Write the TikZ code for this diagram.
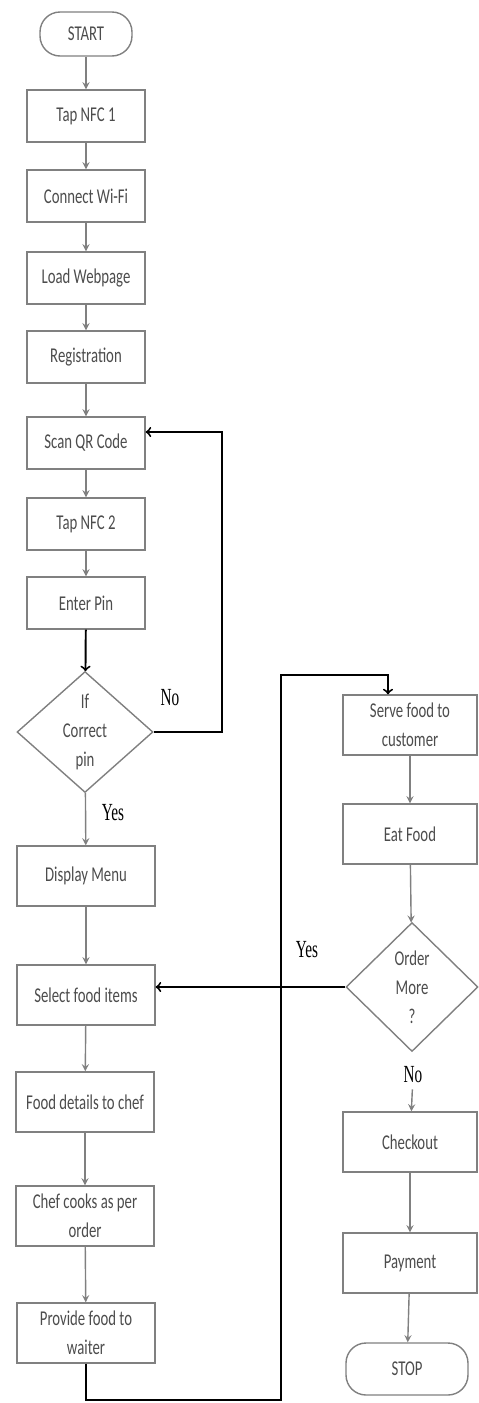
\documentclass[tikz,border=0pt]{standalone}
\usepackage{fontspec}
\setmainfont{Carlito}[FakeStretch=0.7]
\newfontfamily\labelfont{Liberation Serif}[FakeStretch=0.62]
\usetikzlibrary{shapes.geometric}

\begin{document}
\begin{tikzpicture}[x=0.02cm,y=-0.02cm,
    every node/.style={text=black!70,font=\fontsize{12}{16.5}\selectfont,align=center},
    box/.style={draw=gray,line width=0.8pt,inner sep=1pt},
    smallbox/.style={box,minimum width=2.36cm,minimum height=1.04cm},
    bigbox/.style={box,minimum width=2.76cm,minimum height=1.2cm},
    rightbox/.style={box,minimum width=2.68cm,minimum height=1.2cm},
    terminal/.style={box,rounded corners=0.4cm},
    decision/.style={box,diamond,inner sep=0pt},
    flow/.style={draw=gray,line width=0.8pt,-stealth},
    jump/.style={draw=black,line width=1.1pt,->},
    answer/.style={text=black,font=\labelfont\fontsize{14}{14}\selectfont}]
      \useasboundingbox (0,0) rectangle (478,1403);

      \node[terminal,minimum width=1.84cm,minimum height=0.88cm] (start) at (86,34) {START};
      \node[smallbox] (nfcone) at (86,116) {Tap NFC 1};
      \node[smallbox] (wifi) at (86,196) {Connect Wi-Fi};
      \node[smallbox] (webpage) at (86,278) {Load Webpage};
      \node[smallbox] (register) at (86,357) {Registration};
      \node[smallbox] (scanqr) at (86,443) {Scan QR Code};
      \node[smallbox] (nfctwo) at (86,524) {Tap NFC 2};
      \node[smallbox] (pin) at (86,603) {Enter Pin};
      \node[decision,minimum width=2.72cm,minimum height=2.42cm] (checkpin) at (85,732) {If\\Correct\\pin};
      \node[bigbox] (menu) at (86,876) {Display Menu};
      \node[bigbox] (select) at (86,995) {Select food items};
      \node[bigbox] (chef) at (85,1102) {Food details to chef};
      \node[bigbox] (cook) at (85,1216) {Chef cooks as per\\order};
      \node[bigbox] (waiter) at (86,1333) {Provide food to\\waiter};

      \node[rightbox] (serve) at (410,725) {Serve food to\\customer};
      \node[rightbox] (eat) at (410,834) {Eat Food};
      \node[decision,minimum width=2.64cm,minimum height=2.58cm] (more) at (412,987) {Order\\More\\?};
      \node[rightbox] (checkout) at (410,1142) {Checkout};
      \node[rightbox] (payment) at (410,1263) {Payment};
      \node[terminal,minimum width=2.44cm,minimum height=1.04cm] (stop) at (407,1369) {STOP};

      \node[answer] (pinno) at (170,698) {No};
      \node[answer] (pinyes) at (113,813) {Yes};
      \node[answer] (moreyes) at (307,950) {Yes};
      \node[answer] (moreno) at (413,1075) {No};

      \foreach \from/\to in {start/nfcone,nfcone/wifi,wifi/webpage,webpage/register,
          register/scanqr,scanqr/nfctwo,nfctwo/pin,checkpin/menu,menu/select,
          select/chef,chef/cook,cook/waiter,serve/eat,eat/more,moreno/checkout,
          checkout/payment,payment/stop}
        \draw[flow] (\from) -- (\to);

      \coordinate (backright) at (222,732);
      \coordinate (lowturn) at (281,1400);
      \coordinate (highturn) at (281,675);
      \draw[jump] (pin) -- (checkpin);
      \draw[jump] (checkpin.east) -- (backright) |- ([yshift=0.22cm]scanqr.east);
      \draw[jump] (more.west) -- (more.west -| select.east);
      \draw[jump] (waiter.south) |- (lowturn) -- (highturn) -| ([xshift=-0.44cm]serve.north);
    \end{tikzpicture}
\end{document}
